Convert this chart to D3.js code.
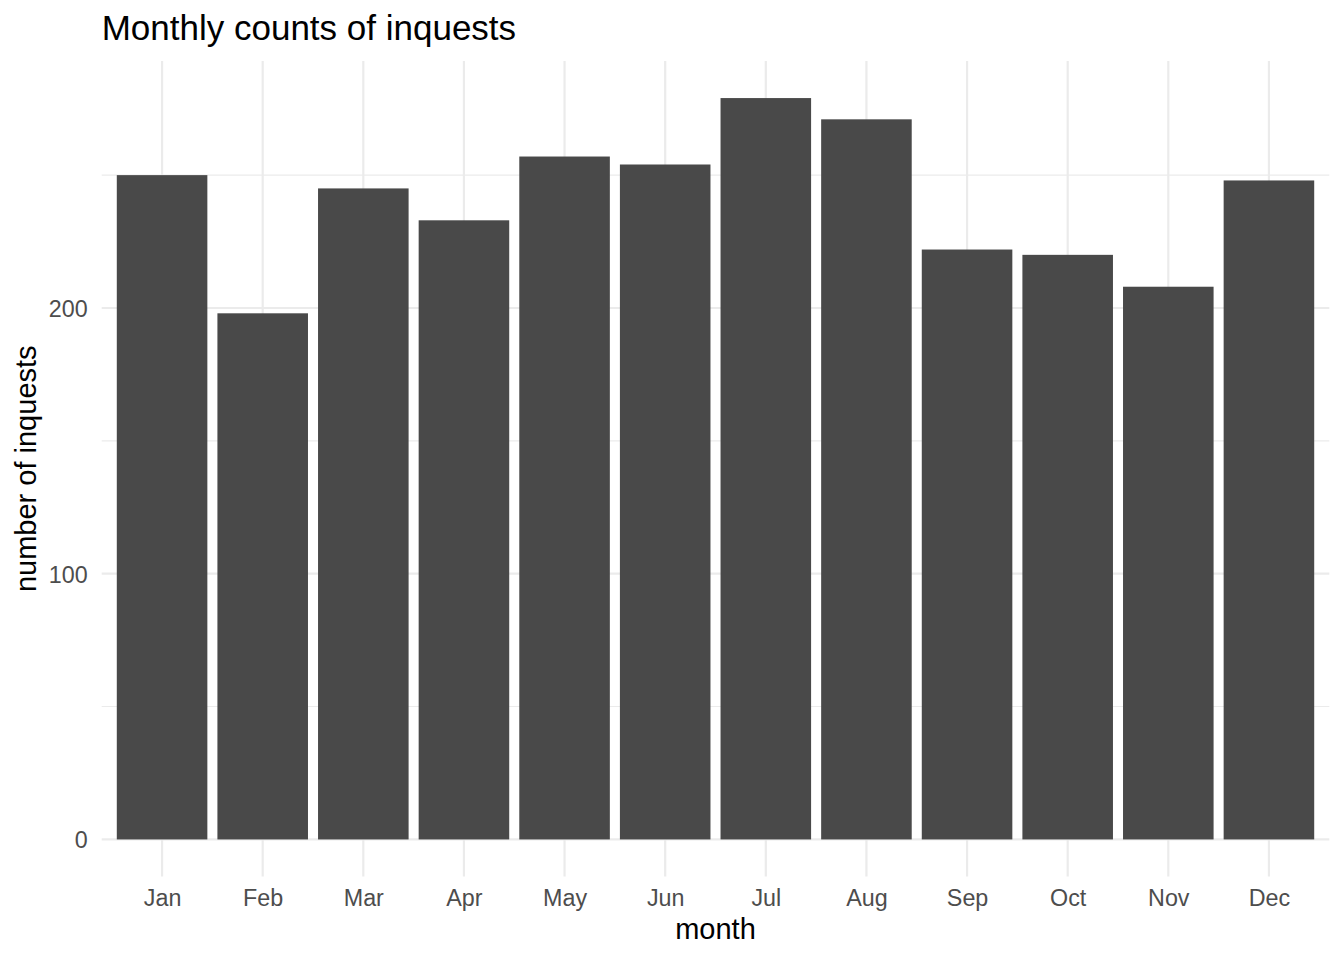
<!DOCTYPE html>
<html lang="en">
<head>
    <meta charset="UTF-8">
    <title>Monthly counts of inquests</title>
    <style>
        body { margin: 0; background: #fff; }
        text { font-family: "Liberation Sans", Arial, sans-serif; }
    </style>
</head>
<body>
    <script src="https://d3js.org/d3.v7.min.js"></script>
    <script>
        const width = 1344;
        const height = 960;

        const months = ["Jan","Feb","Mar","Apr","May","Jun","Jul","Aug","Sep","Oct","Nov","Dec"];
        const counts = [250, 198, 245, 233, 257, 254, 279, 271, 222, 220, 208, 248];
        const majorTicks = [0, 100, 200];
        const minorTicks = [50, 150, 250];

        const panel = {left: 101.7, right: 1329.3, top: 61, bottom: 876.5};

        // discrete axis with ggplot-style 0.6 expansion on each side
        const step = (panel.right - panel.left) / (months.length - 1 + 1.2);
        const x = d3.scalePoint()
            .domain(months)
            .range([panel.left + 0.6 * step, panel.right - 0.6 * step]);

        const maxV = d3.max(counts);
        const y = d3.scaleLinear()
            .domain([-0.05 * maxV, maxV * 1.05])
            .range([panel.bottom, panel.top]);

        const svg = d3.select("body")
            .append("svg")
            .attr("width", width)
            .attr("height", height);

        const grid = svg.append("g").attr("stroke", "#ebebeb").attr("fill", "none");

        grid.selectAll(".minor")
            .data(minorTicks)
            .enter()
            .append("line")
            .attr("x1", panel.left).attr("x2", panel.right)
            .attr("y1", d => y(d)).attr("y2", d => y(d))
            .attr("stroke-width", 1.1);

        grid.selectAll(".major")
            .data(majorTicks)
            .enter()
            .append("line")
            .attr("x1", panel.left).attr("x2", panel.right)
            .attr("y1", d => y(d)).attr("y2", d => y(d))
            .attr("stroke-width", 2.2);

        grid.selectAll(".vert")
            .data(months)
            .enter()
            .append("line")
            .attr("x1", d => x(d)).attr("x2", d => x(d))
            .attr("y1", panel.top).attr("y2", panel.bottom)
            .attr("stroke-width", 2.2);

        const barW = step * 0.9;
        svg.append("g")
            .selectAll("rect")
            .data(months)
            .enter()
            .append("rect")
            .attr("x", d => x(d) - barW / 2)
            .attr("width", barW)
            .attr("y", (d, i) => y(counts[i]))
            .attr("height", (d, i) => y(0) - y(counts[i]))
            .attr("fill", "#494949");

        // axes text
        const xAxis = svg.append("g")
            .attr("transform", "translate(0," + panel.bottom + ")")
            .call(d3.axisBottom(x).tickSize(0).tickPadding(0));
        xAxis.select(".domain").remove();
        xAxis.selectAll("text")
            .attr("y", 29.5)
            .attr("dy", 0)
            .attr("font-size", 23.3)
            .attr("fill", "#4d4d4d");

        const yAxis = svg.append("g")
            .attr("transform", "translate(" + panel.left + ",0)")
            .call(d3.axisLeft(y).tickValues(majorTicks).tickSize(0).tickFormat(d3.format("d")));
        yAxis.select(".domain").remove();
        yAxis.selectAll("text")
            .attr("x", -14)
            .attr("dy", "0.36em")
            .attr("font-size", 23.3)
            .attr("fill", "#4d4d4d");

        svg.selectAll(".tick text").attr("font-family", "Liberation Sans, Arial, sans-serif");

        svg.append("text")
            .attr("x", (panel.left + panel.right) / 2)
            .attr("y", 939)
            .attr("text-anchor", "middle")
            .attr("font-size", 29)
            .attr("fill", "#000")
            .text("month");

        svg.append("text")
            .attr("transform", "translate(36," + ((panel.top + panel.bottom) / 2) + ") rotate(-90)")
            .attr("text-anchor", "middle")
            .attr("font-size", 29)
            .attr("fill", "#000")
            .text("number of inquests");

        svg.append("text")
            .attr("x", panel.left)
            .attr("y", 40)
            .attr("font-size", 35)
            .attr("fill", "#000")
            .text("Monthly counts of inquests");
    </script>
</body>
</html>
